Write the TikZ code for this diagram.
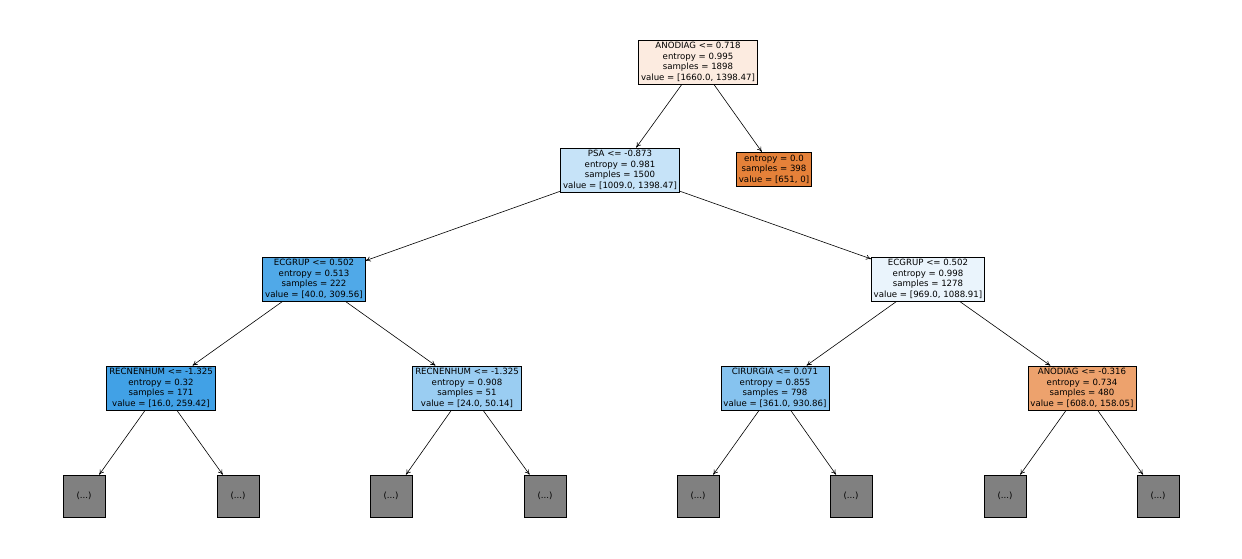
\documentclass[tikz,border=0pt]{standalone}
\usepackage{fontspec}
\setmainfont{DejaVu Sans}
\usetikzlibrary{arrows.meta}
\begin{document}
\begin{tikzpicture}[x=1pt,y=-1pt,
  tn/.style={draw,line width=0.6pt,align=center,font=\fontsize{8.6}{10.6}\selectfont,inner sep=2.5pt,anchor=center},
  gl/.style={draw,line width=0.6pt,fill=gray!100!black,fill=gvals,minimum width=42pt,minimum height=42pt,inner sep=0pt,font=\fontsize{8.6}{10.6}\selectfont},
  ed/.style={-{To[length=5pt,width=5pt]},line width=0.6pt}]
\definecolor{gvals}{HTML}{808080}
\definecolor{c0}{HTML}{FCEBE0}
\definecolor{c1}{HTML}{C6E3F8}
\definecolor{c2}{HTML}{E58139}
\definecolor{c3}{HTML}{50A9E8}
\definecolor{c4}{HTML}{EAF4FC}
\definecolor{c5}{HTML}{41A1E6}
\definecolor{c6}{HTML}{9ACDF2}
\definecolor{c7}{HTML}{86C3EF}
\definecolor{c8}{HTML}{EDA26D}
\useasboundingbox (0,0) rectangle (1242,558);
\node[tn,fill=c0] (r) at (698,62) {ANODIAG <= 0.718\\entropy = 0.995\\samples = 1898\\value = [1660.0, 1398.47]};
\node[tn,fill=c1] (p) at (620,170) {PSA <= -0.873\\entropy = 0.981\\samples = 1500\\value = [1009.0, 1398.47]};
\node[tn,fill=c2] (l) at (774,169) {entropy = 0.0\\samples = 398\\value = [651, 0]};
\node[tn,fill=c3] (e1) at (314,279) {ECGRUP <= 0.502\\entropy = 0.513\\samples = 222\\value = [40.0, 309.56]};
\node[tn,fill=c4] (e2) at (928,279) {ECGRUP <= 0.502\\entropy = 0.998\\samples = 1278\\value = [969.0, 1088.91]};
\node[tn,fill=c5] (n1) at (161,388) {RECNENHUM <= -1.325\\entropy = 0.32\\samples = 171\\value = [16.0, 259.42]};
\node[tn,fill=c6] (n2) at (467,388) {RECNENHUM <= -1.325\\entropy = 0.908\\samples = 51\\value = [24.0, 50.14]};
\node[tn,fill=c7] (n3) at (775,388) {CIRURGIA <= 0.071\\entropy = 0.855\\samples = 798\\value = [361.0, 930.86]};
\node[tn,fill=c8] (n4) at (1082,388) {ANODIAG <= -0.316\\entropy = 0.734\\samples = 480\\value = [608.0, 158.05]};
\foreach \i/\x in {1/84,2/238,3/391,4/545,5/698,6/851,7/1005,8/1158}
  \node[gl] (g\i) at (\x,496) {(...)};
\draw[ed] (r) -- (p); \draw[ed] (r) -- (l);
\draw[ed] (p) -- (e1); \draw[ed] (p) -- (e2);
\draw[ed] (e1) -- (n1); \draw[ed] (e1) -- (n2);
\draw[ed] (e2) -- (n3); \draw[ed] (e2) -- (n4);
\draw[ed] (n1) -- (g1); \draw[ed] (n1) -- (g2);
\draw[ed] (n2) -- (g3); \draw[ed] (n2) -- (g4);
\draw[ed] (n3) -- (g5); \draw[ed] (n3) -- (g6);
\draw[ed] (n4) -- (g7); \draw[ed] (n4) -- (g8);
\end{tikzpicture}
\end{document}
